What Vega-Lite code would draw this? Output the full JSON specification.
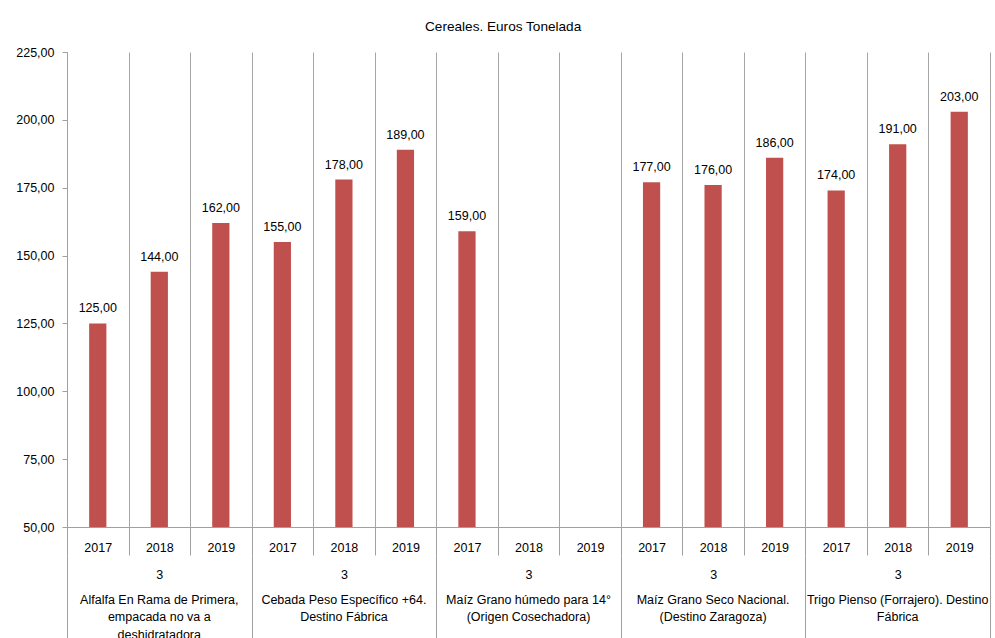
{
  "$schema": "https://vega.github.io/schema/vega-lite/v6.json",
  "autosize": {"type": "none"},
  "padding": {"left": 67, "top": 52, "right": 5, "bottom": 111},
  "width": 923,
  "height": 475,
  "background": "white",
  "title": {"text": "Cereales. Euros Tonelada", "fontSize": 13.6, "font": "Liberation Sans", "fontWeight": "normal", "color": "#000000", "anchor": "middle", "frame": "bounds", "offset": 12},
  "config": {
    "locale": {"number": {"decimal": ",", "thousands": ".", "grouping": [3], "currency": ["", " €"]}},
    "view": {"stroke": null},
    "font": "Liberation Sans",
    "axis": {"labelFont": "Liberation Sans", "labelColor": "#000000", "labelFontSize": 12.5, "domainColor": "#A0A0A0", "tickColor": "#A0A0A0", "gridColor": "#A6A6A6", "titleFontSize": 12}
  },
  "data": {"values": [
    {"key": "1 2017", "product": "P1", "year": "2017", "price": 125},
    {"key": "1 2018", "product": "P1", "year": "2018", "price": 144},
    {"key": "1 2019", "product": "P1", "year": "2019", "price": 162},
    {"key": "2 2017", "product": "P2", "year": "2017", "price": 155},
    {"key": "2 2018", "product": "P2", "year": "2018", "price": 178},
    {"key": "2 2019", "product": "P2", "year": "2019", "price": 189},
    {"key": "3 2017", "product": "P3", "year": "2017", "price": 159},
    {"key": "3 2018", "product": "P3", "year": "2018", "price": null},
    {"key": "3 2019", "product": "P3", "year": "2019", "price": null},
    {"key": "4 2017", "product": "P4", "year": "2017", "price": 177},
    {"key": "4 2018", "product": "P4", "year": "2018", "price": 176},
    {"key": "4 2019", "product": "P4", "year": "2019", "price": 186},
    {"key": "5 2017", "product": "P5", "year": "2017", "price": 174},
    {"key": "5 2018", "product": "P5", "year": "2018", "price": 191},
    {"key": "5 2019", "product": "P5", "year": "2019", "price": 203}
  ]},
  "resolve": {"scale": {"x": "independent"}, "axis": {"x": "independent"}},
  "layer": [
    {
      "mark": {"type": "bar", "color": "#C0504D", "width": {"band": 0.28}, "clip": true},
      "encoding": {
        "x": {"field": "key", "type": "nominal", "sort": null,
          "scale": {"domain": ["1 2017","1 2018","1 2019","2 2017","2 2018","2 2019","3 2017","3 2018","3 2019","4 2017","4 2018","4 2019","5 2017","5 2018","5 2019"], "paddingInner": 0, "paddingOuter": 0},
          "axis": {"orient": "bottom", "title": null, "labelAngle": 0, "labelExpr": "datum.label ? split(datum.label, ' ')[1] : ''", "grid": true, "tickBand": "extent", "gridColor": "#A6A6A6", "tickSize": 28, "labelPadding": -14, "domainColor": "#A0A0A0", "labelBaseline": "top"}},
        "y": {"field": "price", "type": "quantitative",
          "scale": {"domain": [50, 225], "zero": false, "nice": false},
          "axis": {"title": null, "values": [50,75,100,125,150,175,200,225], "format": ".2f", "grid": false, "tickSize": 5, "labelPadding": 8, "domainColor": "#A0A0A0"}}
      }
    },
    {
      "mark": {"type": "text", "dy": -15, "fontSize": 12.5, "color": "#000000", "font": "Liberation Sans"},
      "encoding": {
        "x": {"field": "key", "type": "nominal", "sort": null,
          "scale": {"domain": ["1 2017","1 2018","1 2019","2 2017","2 2018","2 2019","3 2017","3 2018","3 2019","4 2017","4 2018","4 2019","5 2017","5 2018","5 2019"], "paddingInner": 0, "paddingOuter": 0},
          "axis": null},
        "y": {"field": "price", "type": "quantitative"},
        "text": {"field": "price", "type": "quantitative", "format": ".2f"}
      }
    },
    {
      "mark": {"type": "bar", "opacity": 0},
      "encoding": {
        "x": {"field": "product", "type": "nominal", "sort": null,
          "scale": {"domain": ["P1","P2","P3","P4","P5"], "paddingInner": 0, "paddingOuter": 0},
          "axis": {"orient": "bottom", "title": null, "labelAngle": 0, "offset": 28, "domain": false, "tickBand": "extent", "tickSize": 100, "labelPadding": -81, "labelBaseline": "middle", "labelExpr": "datum.label ? '3' : ''", "tickColor": "#A0A0A0"}}
      }
    },
    {
      "mark": {"type": "bar", "opacity": 0},
      "encoding": {
        "x": {"field": "product", "type": "nominal", "sort": null,
          "scale": {"domain": ["P1","P2","P3","P4","P5"], "paddingInner": 0, "paddingOuter": 0},
          "axis": {"orient": "bottom", "title": null, "labelAngle": 0, "offset": 66, "domain": false, "ticks": false, "labelPadding": 0, "labelBaseline": "top", "labelLineHeight": 17.5, "labelLimit": 0,
            "labelExpr": "datum.label == 'P1' ? ['Alfalfa En Rama de Primera,', 'empacada no va a', 'deshidratadora'] : datum.label == 'P2' ? ['Cebada Peso Específico +64.', 'Destino Fábrica'] : datum.label == 'P3' ? ['Maíz Grano húmedo para 14°', '(Origen Cosechadora)'] : datum.label == 'P4' ? ['Maíz Grano Seco Nacional.', '(Destino Zaragoza)'] : datum.label == 'P5' ? ['Trigo Pienso (Forrajero). Destino', 'Fábrica'] : ''"}}
      }
    }
  ]
}
